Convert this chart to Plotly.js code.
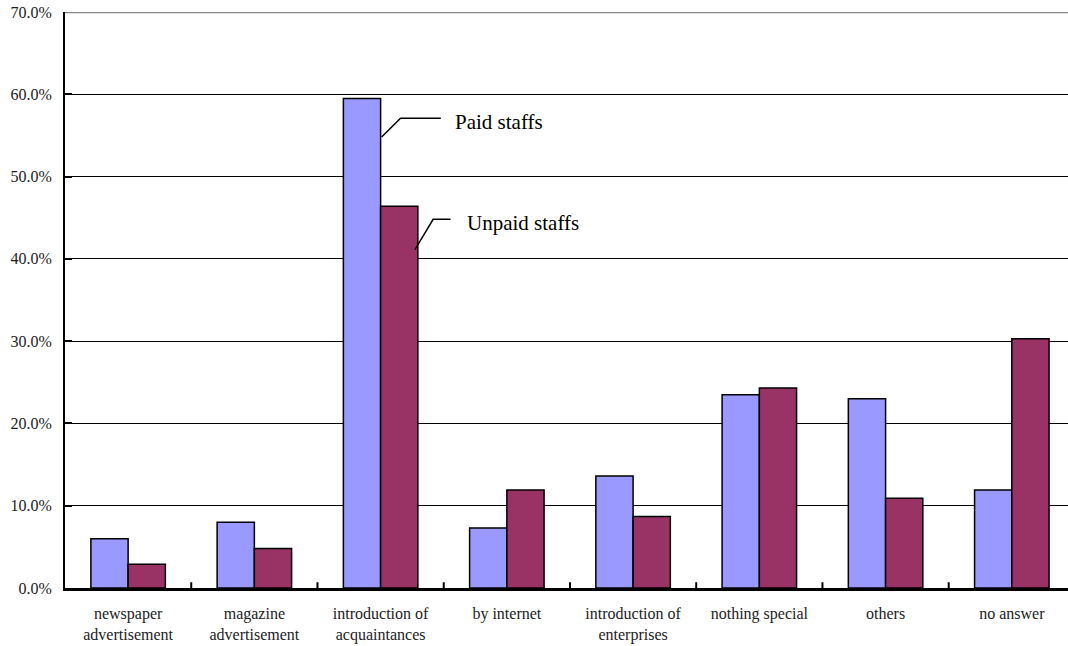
<!DOCTYPE html>
<html>
<head>
<meta charset="utf-8">
<script src="https://cdn.plot.ly/plotly-3.0.1.min.js"></script>
<style>html,body{margin:0;padding:0;background:#fff;}#chart{width:1068px;height:646px;}</style>
</head>
<body>
<div id="chart"></div>
<script>
const categories = ["newspaper<br>advertisement", "magazine<br>advertisement", "introduction of<br>acquaintances", "by internet", "introduction of<br>enterprises", "nothing special", "others", "no answer"];
const paidStaffs = [6.0, 8.0, 59.5, 7.3, 13.6, 23.5, 23.0, 11.9];
const unpaidStaffs = [2.9, 4.8, 46.4, 11.9, 8.7, 24.3, 10.9, 30.3];
const yTickVals = [0, 10, 20, 30, 40, 50, 60, 70];
const seriesNames = ["Paid staffs", "Unpaid staffs"];

const font = "Liberation Serif";
const xIdx = categories.map((c, i) => i);

const traces = [
  {type: "bar", name: seriesNames[0], x: xIdx, y: paidStaffs,
   marker: {color: "#9999FF", line: {color: "#000", width: 1.5}}, hoverinfo: "skip"},
  {type: "bar", name: seriesNames[1], x: xIdx, y: unpaidStaffs,
   marker: {color: "#993366", line: {color: "#000", width: 1.5}}, hoverinfo: "skip"}
];

const layout = {
  width: 1068, height: 646,
  margin: {l: 65, r: 0, t: 12, b: 58},
  paper_bgcolor: "#fff", plot_bgcolor: "#fff",
  showlegend: false,
  barmode: "group", bargap: 0.41, bargroupgap: 0,
  font: {family: font, size: 16, color: "#000"},
  xaxis: {
    type: "linear",
    range: [-0.5, 7.445],
    tickvals: xIdx, ticktext: categories,
    ticks: "", showgrid: false, zeroline: false,
    showline: true, linecolor: "#000", linewidth: 2.5,
    tickfont: {family: font, size: 16, color: "#222"},
    ticklabelstandoff: 9,
    fixedrange: true
  },
  yaxis: {
    range: [0, 70],
    tickvals: yTickVals,
    ticktext: yTickVals.map(v => v.toFixed(1) + "%"),
    ticks: "inside", ticklen: 7, tickwidth: 2, tickcolor: "#000",
    showgrid: true, gridcolor: "#000", gridwidth: 1,
    zeroline: false,
    showline: true, linecolor: "#000", linewidth: 2,
    tickfont: {family: font, size: 16, color: "#222"},
    ticklabelstandoff: 8,
    fixedrange: true
  },
  shapes: [
    {type: "line", xref: "paper", yref: "y", x0: 0, x1: 1, y0: 70, y1: 70, line: {color: "#888", width: 2.5}},
    {type: "path", xref: "x", yref: "y", path: "M 2.008 54.8 L 2.158 57.1 L 2.477 57.1", line: {color: "#000", width: 1.5}},
    {type: "path", xref: "x", yref: "y", path: "M 2.271 41.1 L 2.416 44.8 L 2.554 44.8", line: {color: "#000", width: 1.5}}
  ].concat([0.5, 1.5, 2.5, 3.5, 4.5, 5.5, 6.5].map(b => ({
    type: "line", xref: "x", yref: "paper", x0: b, x1: b, y0: 0, y1: 0.01, line: {color: "#000", width: 2}
  }))),
  annotations: [
    {xref: "x", yref: "y", x: 2.57, y: 56.6, text: seriesNames[0], showarrow: false, xanchor: "left", yanchor: "middle", font: {family: font, size: 21, color: "#000"}},
    {xref: "x", yref: "y", x: 2.667, y: 44.35, text: seriesNames[1], showarrow: false, xanchor: "left", yanchor: "middle", font: {family: font, size: 21, color: "#000"}}
  ]
};

Plotly.newPlot("chart", traces, layout, {displayModeBar: false, staticPlot: true});
</script>
</body>
</html>
